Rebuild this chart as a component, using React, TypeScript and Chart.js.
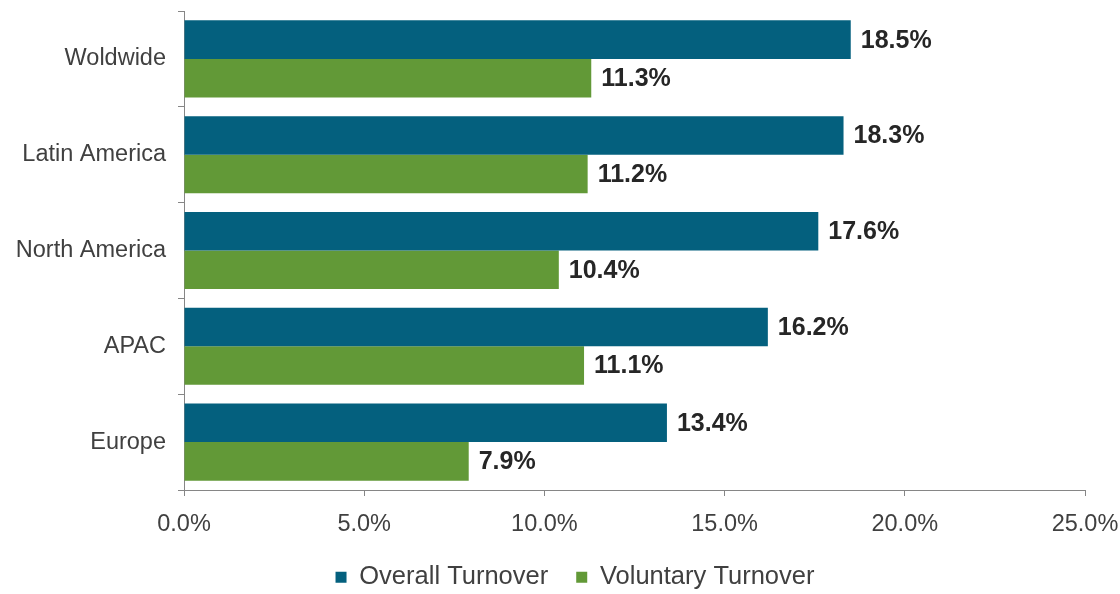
import React, { useEffect, useRef } from "react";
import { Chart, registerables } from "chart.js";

Chart.register(...registerables);

const categories = ["Woldwide", "Latin America", "North America", "APAC", "Europe"];
const overallTurnover = [18.5, 18.3, 17.6, 16.2, 13.4];
const voluntaryTurnover = [11.3, 11.2, 10.4, 11.1, 7.9];
const seriesNames = ["Overall Turnover", "Voluntary Turnover"];
const xTickValues = [0, 5, 10, 15, 20, 25];

const BLUE = "#04607e";
const GREEN = "#629937";
const AXIS = "#868686";
const FONT = "'Liberation Sans', Arial, sans-serif";

const PAD = { top: 11, right: 35, left: 0, bottom: -6 };
const PLOT_LEFT = 184;
const PLOT_BOTTOM = 490;
const LEGEND_LEFT = 65;

const dataLabelPlugin = {
  id: "dataLabels",
  afterDatasetsDraw(chart: any) {
    const ctx = chart.ctx;
    ctx.save();
    ctx.font = `bold 25px ${FONT}`;
    ctx.fillStyle = "#262626";
    ctx.textAlign = "left";
    ctx.textBaseline = "middle";
    chart.data.datasets.forEach((ds: any, di: number) => {
      const meta = chart.getDatasetMeta(di);
      meta.data.forEach((bar: any, i: number) => {
        const v = ds.data[i];
        ctx.fillText(v.toFixed(1) + "%", bar.x + 10, bar.y + 1);
      });
    });
    ctx.restore();
  },
};

const legendShiftPlugin = {
  id: "legendShift",
  afterLayout(chart: any) {
    if (chart.legend) chart.legend.left = LEGEND_LEFT;
  },
};

export default function App() {
  const ref = useRef<HTMLCanvasElement | null>(null);
  useEffect(() => {
    document.body.style.margin = "0";
    if (!ref.current) return;
    const chart = new Chart(ref.current, {
      type: "bar",
      data: {
        labels: categories,
        datasets: [
          {
            label: seriesNames[0],
            data: overallTurnover,
            backgroundColor: BLUE,
            categoryPercentage: 0.805,
            barPercentage: 1.0,
          },
          {
            label: seriesNames[1],
            data: voluntaryTurnover,
            backgroundColor: GREEN,
            categoryPercentage: 0.805,
            barPercentage: 1.0,
          },
        ],
      },
      options: {
        indexAxis: "y",
        responsive: false,
        animation: false,
        layout: { padding: PAD },
        scales: {
          x: {
            min: 0,
            max: 25,
            afterBuildTicks: (s: any) => {
              s.ticks = xTickValues.map((v) => ({ value: v }));
            },
            afterFit: (s: any) => {
              const lh = s.chart.legend ? s.chart.legend.height : 64;
              s.height = 594 - PAD.bottom - lh - PLOT_BOTTOM;
              s.paddingLeft = 0;
              s.paddingRight = 0;
            },
            grid: {
              drawOnChartArea: false,
              drawTicks: true,
              tickLength: 6,
              color: AXIS,
            },
            border: { color: AXIS, width: 1 },
            ticks: {
              padding: 14,
              color: "#404040",
              font: { family: FONT, size: 23.5 },
              callback: (v: any) => Number(v).toFixed(1) + "%",
            },
          },
          y: {
            afterFit: (s: any) => {
              s.width = PLOT_LEFT - PAD.left;
              s.paddingTop = 0;
              s.paddingBottom = 0;
            },
            grid: {
              offset: true,
              drawOnChartArea: false,
              drawTicks: true,
              tickLength: 6,
              color: AXIS,
            },
            border: { color: AXIS, width: 1 },
            ticks: {
              padding: 12,
              color: "#404040",
              font: { family: FONT, size: 23.5 },
            },
          },
        },
        plugins: {
          legend: {
            position: "bottom",
            labels: {
              boxWidth: 11,
              boxHeight: 11,
              padding: 28,
              color: "#404040",
              font: { family: FONT, size: 25.5 },
            },
          },
          tooltip: { enabled: false },
        },
      },
      plugins: [dataLabelPlugin, legendShiftPlugin],
    } as any);
    return () => chart.destroy();
  }, []);
  return (
    <div style={{ width: 1120, height: 594, background: "#fff" }}>
      <canvas ref={ref} width={1120} height={594} />
    </div>
  );
}
